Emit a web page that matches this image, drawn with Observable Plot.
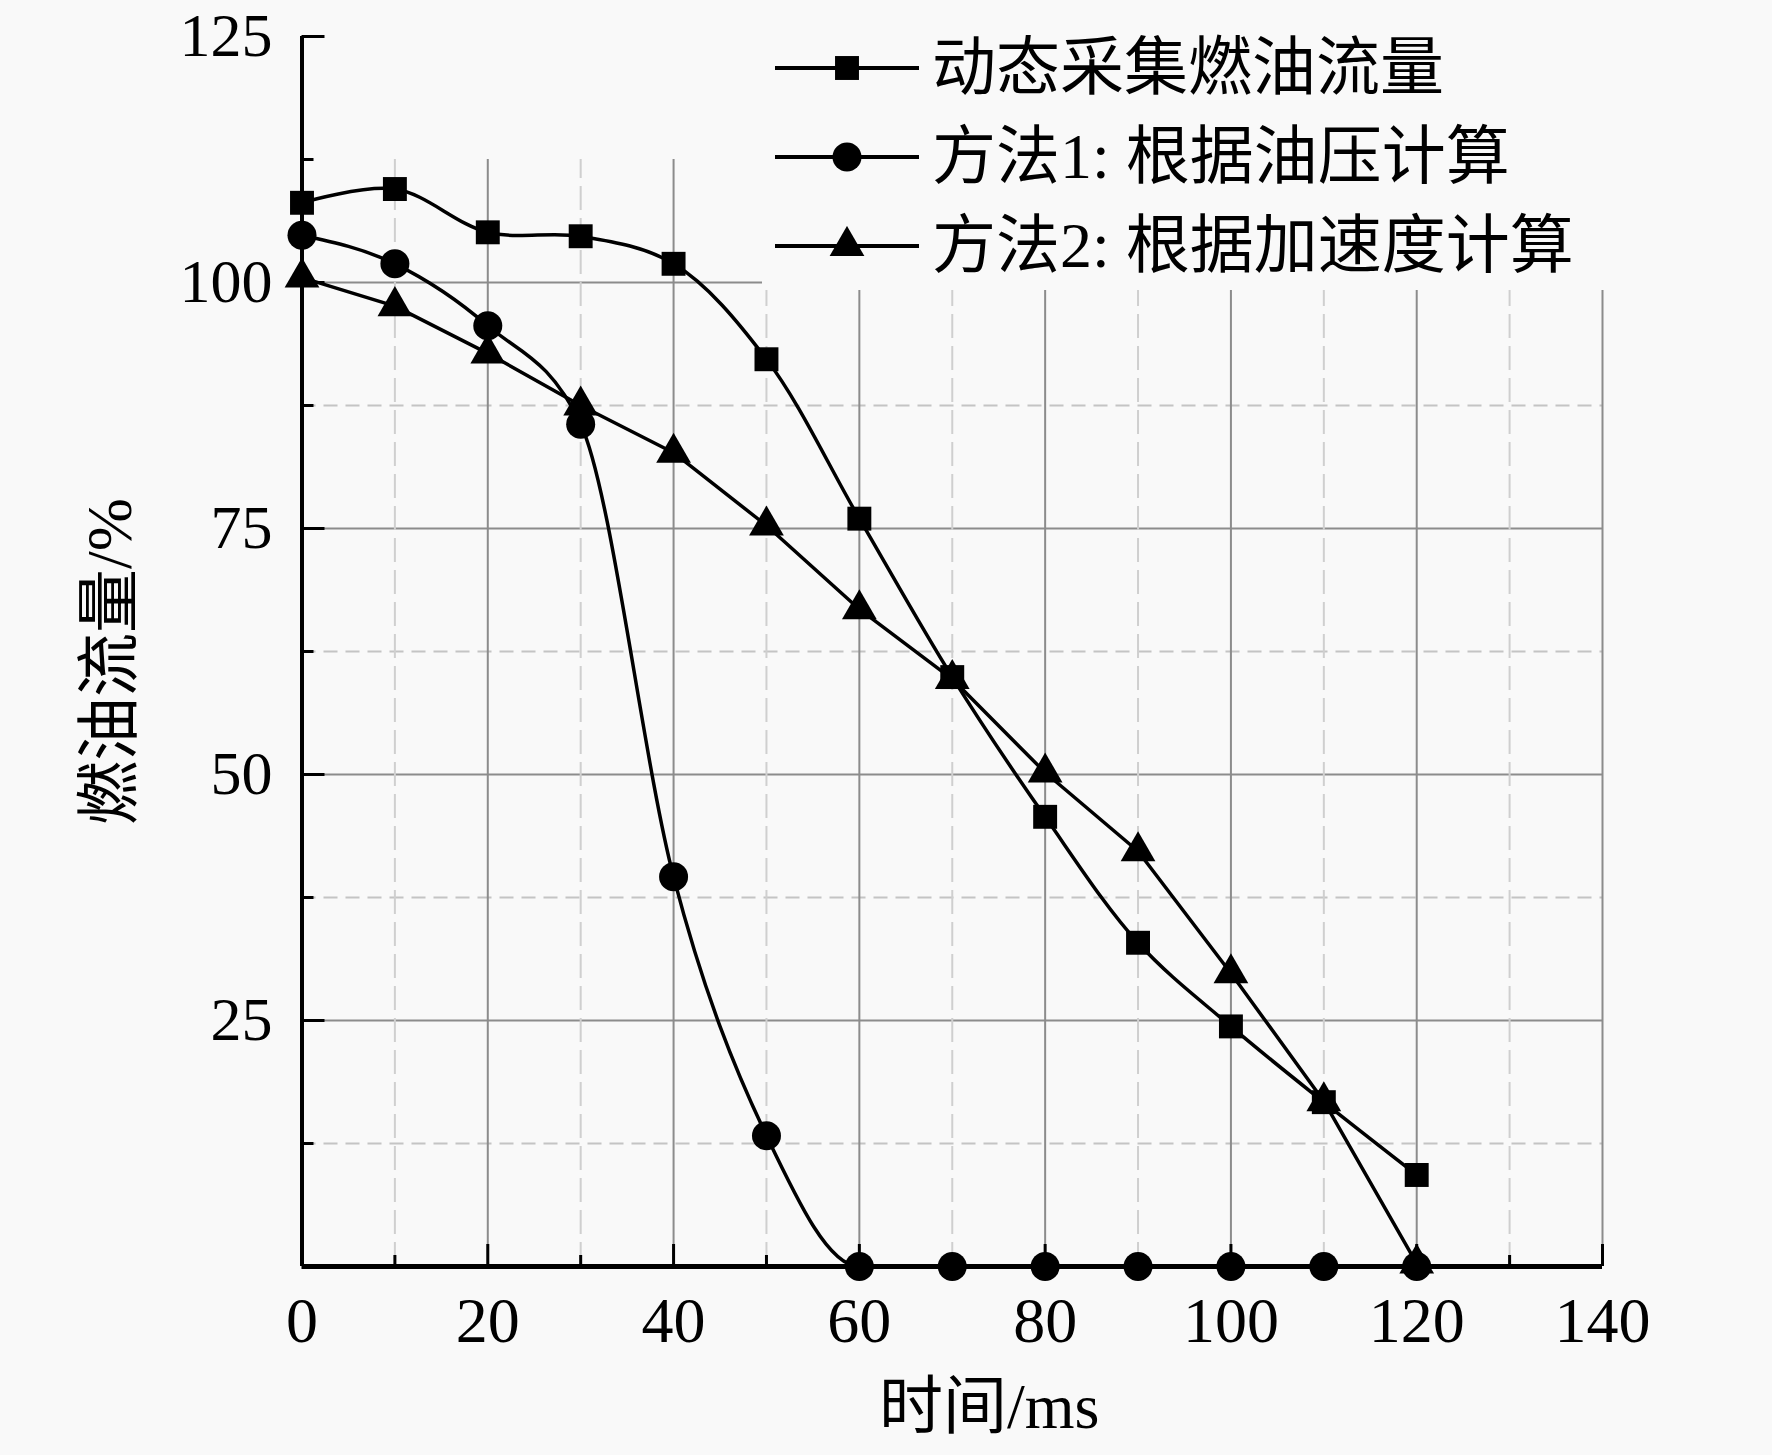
<!DOCTYPE html>
<html><head><meta charset="utf-8">
<script src="https://cdn.jsdelivr.net/npm/d3@7"></script>
<script src="https://cdn.jsdelivr.net/npm/@observablehq/plot@0.6"></script>
<style>
html,body{margin:0;padding:0;background:#f9f9f9;}
#wrap{position:relative;width:1772px;height:1455px;}
#legend{position:absolute;left:762px;top:0;width:850px;height:290px;background:#f9f9f9;
  font-family:'Liberation Serif','Noto Sans CJK SC',serif;font-size:64px;color:#000;}
.row{position:absolute;left:13px;height:92px;display:flex;align-items:center;white-space:nowrap;line-height:1;}
.row svg{margin-right:13px;flex:none;}
</style></head><body><div id="wrap"></div><script>
// ---- data ----
const times = [0,10,20,30,40,50,60,70,80,90,100,110,120];
const measured = [108.1,109.5,105.1,104.7,101.9,92.2,76.0,59.9,45.7,32.9,24.4,16.7,9.3];
const method1  = [104.8,101.9,95.6,85.6,39.6,13.3,0,0,0,0,0,0,0];
const method2  = [100.5,97.6,92.8,87.5,82.7,75.3,66.8,59.7,50.2,42.2,29.8,16.8,0.3];
const seriesNames = ["动态采集燃油流量","方法1: 根据油压计算","方法2: 根据加速度计算"];
const seriesSymbols = ["square","circle","triangle"];
const xMajorTicks = [0,20,40,60,80,100,120,140];
const xMinorTicks = [10,30,50,70,90,110,130];
const yMajorTicks = [25,50,75,100,125];
const yMinorTicks = [12.5,37.5,62.5,87.5,112.5];
const xTitle = "时间/ms";
const yTitle = "燃油流量/%";

const rows = (vals) => times.map((t,i)=>({t, v: vals[i]}));
const s0 = rows(measured), s1 = rows(method1), s2 = rows(method2);

const font = "'Liberation Serif','Noto Sans CJK SC',serif";
const gridTop = 112.5;

const chart = Plot.plot({
  width: 1772, height: 1455,
  marginLeft: 301.5, marginRight: 170, marginTop: 36, marginBottom: 189,
  style: {fontFamily: font, fontSize: "64px", background: "transparent", color: "#000"},
  x: {domain: [0,140], axis: null},
  y: {domain: [0,125], axis: null},
  marks: [
    // grid
    Plot.ruleY(yMinorTicks.filter(d=>d<100), {y: d=>d, x1: 0, x2: 140, stroke: "#c4c4c4", strokeWidth: 2, strokeDasharray: "14,8"}),
    Plot.ruleY(yMajorTicks.filter(d=>d<=100), {y: d=>d, x1: 0, x2: 140, stroke: "#8c8c8c", strokeWidth: 2}),
    Plot.ruleX(xMinorTicks, {x: d=>d, y1: 0, y2: gridTop, stroke: "#cfcfcf", strokeWidth: 2, strokeDasharray: "24,8"}),
    Plot.ruleX(xMajorTicks.filter(d=>d>0), {x: d=>d, y1: 0, y2: gridTop, stroke: "#8c8c8c", strokeWidth: 2}),
    // axes lines
    Plot.ruleX([0], {y1: 0, y2: 125, stroke: "#000", strokeWidth: 4}),
    Plot.ruleY([0], {x1: 0, x2: 140, stroke: "#000", strokeWidth: 5}),
    // ticks
    Plot.axisX(xMajorTicks, {anchor: "bottom", label: null, tickSize: -22, tickPadding: 52, strokeWidth: 3, fontSize: 64, tickFormat: d=>String(d)}),
    Plot.axisX(xMinorTicks, {anchor: "bottom", label: null, tickSize: -11, strokeWidth: 3, tickFormat: () => ""}),
    Plot.axisY(yMajorTicks, {anchor: "left", label: null, tickSize: -23, tickPadding: 52.5, strokeWidth: 3, fontSize: 62, tickFormat: d=>String(d)}),
    Plot.axisY(yMinorTicks, {anchor: "left", label: null, tickSize: -12, strokeWidth: 3, tickFormat: () => ""}),
    // titles
    Plot.text([xTitle], {frameAnchor: "bottom", dx: 37, dy: 141, fontSize: 64, textAnchor: "middle", lineAnchor: "middle"}),
    Plot.text([yTitle], {frameAnchor: "left", dx: -191.5, dy: 10, rotate: -90, fontSize: 64, textAnchor: "middle", lineAnchor: "middle"}),
    // series
    Plot.line(s2, {x: "t", y: "v", stroke: "#000", strokeWidth: 3.5}),
    Plot.line(s1, {x: "t", y: "v", stroke: "#000", strokeWidth: 3.5, curve: "monotone-x"}),
    Plot.line(s0, {x: "t", y: "v", stroke: "#000", strokeWidth: 3.5, curve: "catmull-rom"}),
    Plot.dot(s2, {x: "t", y: "v", symbol: "triangle", r: 12.9, fill: "#000"}),
    Plot.dot(s1, {x: "t", y: "v", symbol: "circle", r: 14.5, fill: "#000"}),
    Plot.dot(s0, {x: "t", y: "v", symbol: "square", r: 13.5, fill: "#000"})
  ]
});
const wrap = document.getElementById("wrap");
wrap.appendChild(chart);

// legend (HTML overlay with a box that hides the grid behind it)
const legend = document.createElement("div");
legend.id = "legend";
const sizes = {square: 13.5, circle: 14.5, triangle: 12.9};
seriesNames.forEach((name, i) => {
  const row = document.createElement("div");
  row.className = "row";
  row.style.top = (22 + i*89) + "px";
  const s = seriesSymbols[i];
  const type = s === "square" ? d3.symbolSquare : s === "circle" ? d3.symbolCircle : d3.symbolTriangle;
  const r = sizes[s];
  const path = d3.symbol(type, Math.PI*r*r)();
  row.innerHTML = `<svg width="144" height="40" viewBox="0 0 144 40"><line x1="0" x2="144" y1="20" y2="20" stroke="#000" stroke-width="4"/><path d="${path}" transform="translate(72,20)" fill="#000"/></svg><span>${name}</span>`;
  legend.appendChild(row);
});
wrap.appendChild(legend);
</script></body></html>
